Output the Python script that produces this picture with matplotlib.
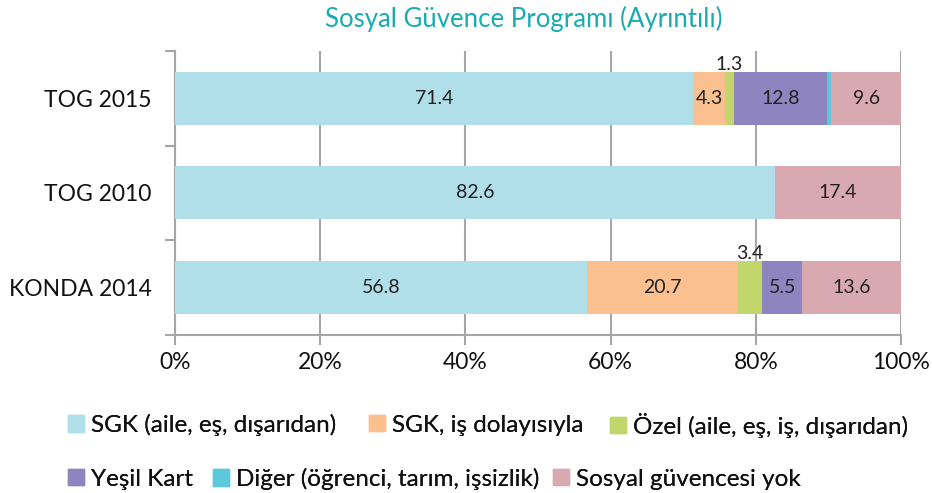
import matplotlib
matplotlib.use("Agg")
from matplotlib import pyplot as plt
from matplotlib.patches import Patch

"data"
groups = ['KONDA 2014', 'TOG 2010', 'TOG 2015']
series = ['SGK (aile, eş, dışarıdan)', 'SGK, iş dolayısıyla', 'Özel (aile, eş, iş, dışarıdan)',
          'Yeşil Kart', 'Diğer (öğrenci, tarım, işsizlik)', 'Sosyal güvencesi yok']
sgk_aile = [56.8, 82.6, 71.4]
sgk_is = [20.7, 0.0, 4.3]
ozel = [3.4, 0.0, 1.3]
yesil_kart = [5.5, 0.0, 12.8]
diger = [0.0, 0.0, 0.6]
yok = [13.6, 17.4, 9.6]
colors = ['#b0dfea', '#fac090', '#c3d66b', '#8d84c0', '#5bc8dc', '#d9a9b2']

"format"
plt.rcParams['font.family'] = ['Lato', 'DejaVu Sans']
fig = plt.figure(figsize=(9.32, 4.93), dpi=100)
ax = fig.add_axes([0.1878, 0.3205, 0.7789, 0.5761])

values = [sgk_aile, sgk_is, ozel, yesil_kart, diger, yok]
left = [0.0] * len(groups)
for vals, col in zip(values, colors):
    bars = ax.barh(range(len(groups)), vals, left=left, height=0.56, color=col, zorder=3)
    for i, (b, v) in enumerate(zip(bars, vals)):
        if v == 0 or v < 1.0:
            pass
        elif v < 2.0 or (v < 4.0 and col == '#c3d66b'):
            ax.text(left[i] + v / 2, i + 0.27, f'{v:.1f}', ha='center', va='bottom',
                    fontsize=14, color='#222222', zorder=4)
        else:
            ax.text(left[i] + v / 2, i, f'{v:.1f}', ha='center', va='center',
                    fontsize=14, color='#222222', zorder=4)
    left = [l + v for l, v in zip(left, vals)]

ax.set_xlim(0, 100)
ax.set_ylim(-0.5, 2.5)
ax.set_xticks(range(0, 101, 20))
ax.set_xticklabels([f'{t}%' for t in range(0, 101, 20)])
ax.set_yticks(range(len(groups)))
ax.set_yticklabels(groups)
ax.set_yticks([-0.5, 0.5, 1.5, 2.5], minor=True)
ax.tick_params(axis='y', which='major', length=0, pad=17, labelsize=16.5, labelcolor='#111111')
ax.tick_params(axis='y', which='minor', length=7, width=1.5, color='#a6a6a6')
ax.tick_params(axis='x', length=7, width=1.5, color='#a6a6a6', labelsize=16.5, labelcolor='#111111', pad=5)
ax.grid(axis='x', color='#a6a6a6', linewidth=1.5, zorder=0)
for s in ['top', 'right']:
    ax.spines[s].set_visible(False)
for s in ['left', 'bottom']:
    ax.spines[s].set_color('#a6a6a6')
    ax.spines[s].set_linewidth(1.5)

fig.text(0.562, 0.961, 'Sosyal Güvence Programı (Ayrıntılı)', ha='center', va='center',
         fontsize=18.5, color='#1aabb0')

"legend, one entry each (Excel layout)"
leg_x = [68, 369, 610, 68, 213, 553]
leg_y = [425, 425, 425, 479, 479, 479]
leg_kw = dict(frameon=False, fontsize=17.5, handlelength=0.65, handleheight=0.65,
              handletextpad=0.3, labelcolor='#111111', borderaxespad=0, borderpad=0,
              loc='center left')
for c, l, x, y in zip(colors, series, leg_x, leg_y):
    lg = fig.legend([Patch(color=c)], [l], bbox_to_anchor=(x / 932, 1 - y / 493), **leg_kw)
    fig.add_artist(lg)

plt.savefig('out.png', dpi=100)
